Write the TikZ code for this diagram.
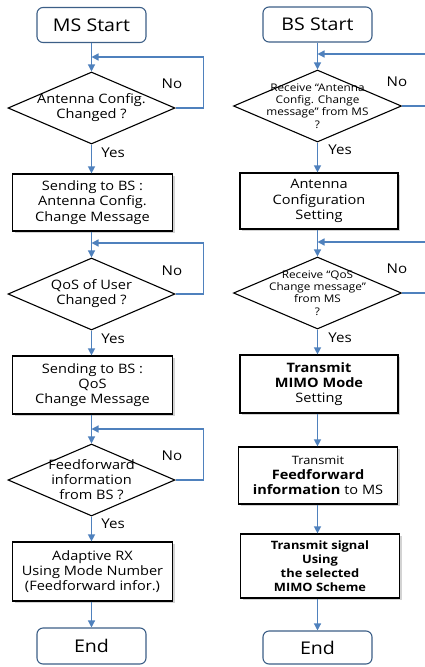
\documentclass[tikz,border=0pt]{standalone}
\usepackage{fontspec}
\setmainfont{Open Sans}[FakeStretch=1.12]
\usetikzlibrary{shapes.geometric,arrows.meta,shadows,calc}
\definecolor{flow}{RGB}{79,129,189}
\definecolor{termc}{RGB}{60,95,135}
\begin{document}
\begin{tikzpicture}[x=1pt,y=-1pt,
  termbox/.style={draw=termc, line width=1.1pt, rounded corners=6pt, fill=white,
    minimum width=109pt, minimum height=35pt, inner sep=0pt,
    font=\fontsize{17.5}{20}\selectfont},
  procbox/.style={draw, line width=1.2pt, fill=white, align=center, inner sep=0pt,
    drop shadow={shadow xshift=2pt, shadow yshift=-2pt, opacity=0.35},
    font=\fontsize{13}{15.3}\selectfont},
  decbox/.style={diamond, draw, line width=1.1pt, fill=white, inner sep=0pt,
    minimum width=167pt, minimum height=72pt},
  dtext/.style={align=center, inner sep=0pt, font=\fontsize{13}{15}\selectfont},
  dsmall/.style={align=center, inner sep=0pt, font=\fontsize{10.5}{12.3}\selectfont},
  arr/.style={draw=flow, line width=1.3pt, -{Triangle[length=7pt,width=7pt]}},
  lab/.style={inner sep=0pt, font=\fontsize{13.5}{15}\selectfont}]
\useasboundingbox (0,0) rectangle (425,667);
\clip (0,0) rectangle (425,667);

% ---------------- left column (MS) ----------------
\node[termbox] (ms) at (91.5,25) {MS Start};
\node[decbox, label={[dtext]center:{Antenna Config.\\Changed ?}}] (md1) at (91.5,108) {};
\node[procbox, minimum width=160pt, minimum height=57pt] (mb1) at (92.5,202.5)
  {Sending to BS :\\Antenna Config.\\Change Message};
\node[decbox, label={[dtext]center:{QoS of User\\Changed ?}}] (md2) at (91.5,294) {};
\node[procbox, minimum width=160pt, minimum height=58pt] (mb2) at (92.5,385)
  {Sending to BS :\\QoS\\Change Message};
\node[decbox, label={[dtext]center:{Feedforward\\information\\from BS ?}}] (md3) at (91.5,480) {};
\node[procbox, minimum width=160pt, minimum height=59pt] (mb3) at (92.5,571.5)
  {Adaptive RX\\Using Mode Number\\(Feedforward infor.)};
\node[termbox, minimum height=36pt] (mend) at (91.5,646) {End};

\coordinate (mj1) at (91.5,57);
\coordinate (mj2) at (91.5,243);
\coordinate (mj3) at (91.5,429);

\draw[arr] (ms) -- (md1);
\draw[arr] (md1.east) -- ++(28,0) |- (mj1);
\draw[arr] (md1) -- (md1.south |- mb1.north);
\draw[arr] (mb1.south -| md2.north) -- (md2);
\draw[arr] (md2.east) -- ++(28,0) |- (mj2);
\draw[arr] (md2) -- (md2.south |- mb2.north);
\draw[arr] (mb2.south -| md3.north) -- (md3);
\draw[arr] (md3.east) -- ++(28,0) |- (mj3);
\draw[arr] (md3) -- (md3.south |- mb3.north);
\draw[arr] (mb3.south -| mend.north) -- (mend);

\node[lab] (mn1) at (172,84) {No};
\node[lab] (my1) at (113,153) {Yes};
\node[lab] (mn2) at (172,271) {No};
\node[lab] (my2) at (113,339) {Yes};
\node[lab] (mn3) at (172,456) {No};
\node[lab] (my3) at (113,524) {Yes};

% ---------------- right column (BS) ----------------
\node[termbox] (bs) at (317.5,24.5) {BS Start};
\node[decbox, minimum width=168pt, label={[dsmall]center:{Receive “Antenna\\Config. Change\\message” from MS\\?}}] (bd1) at (317.5,106) {};
\node[procbox, minimum width=158pt, minimum height=56pt] (bb1) at (319,201)
  {Antenna\\Configuration\\Setting};
\node[decbox, minimum width=168pt, label={[dsmall]center:{Receive “QoS\\Change message”\\from MS\\?}}] (bd2) at (317.5,293) {};
\node[procbox, minimum width=158pt, minimum height=58pt] (bb2) at (319,384)
  {\textbf{Transmit}\\\textbf{MIMO Mode}\\Setting};
\node[procbox, minimum width=159pt, minimum height=57pt] (bb3) at (318,475.5)
  {{\fontsize{11.5}{14}\selectfont Transmit}\\\textbf{Feedforward}\\\textbf{information} to MS};
\node[procbox, minimum width=159pt, minimum height=64pt, font=\fontsize{11.5}{14}\selectfont\bfseries] (bb4) at (320,566)
  {Transmit signal\\Using\\the selected\\MIMO Scheme};
\node[termbox, minimum height=33pt] (bend) at (317.5,647.5) {End};

\coordinate (bj1) at (317.5,54);
\coordinate (bj2) at (317.5,242);

\draw[arr] (bs) -- (bd1);
\draw[arr] (bd1.east) -- ++(40,0) |- (bj1);
\draw[arr] (bd1) -- (bd1.south |- bb1.north);
\draw[arr] (bb1.south -| bd2.north) -- (bd2);
\draw[arr] (bd2.east) -- ++(40,0) |- (bj2);
\draw[arr] (bd2) -- (bd2.south |- bb2.north);
\draw[arr] (bb2.south -| bd2.south) -- (bb3.north -| bd2.south);
\draw[arr] (bb3.south -| bd2.south) -- (bb4.north -| bd2.south);
\draw[arr] (bb4.south -| bend.north) -- (bend);

\node[lab] (bn1) at (397,82) {No};
\node[lab] (by1) at (340,150) {Yes};
\node[lab] (bn2) at (397,269) {No};
\node[lab] (by2) at (340,338) {Yes};
\end{tikzpicture}
\end{document}
